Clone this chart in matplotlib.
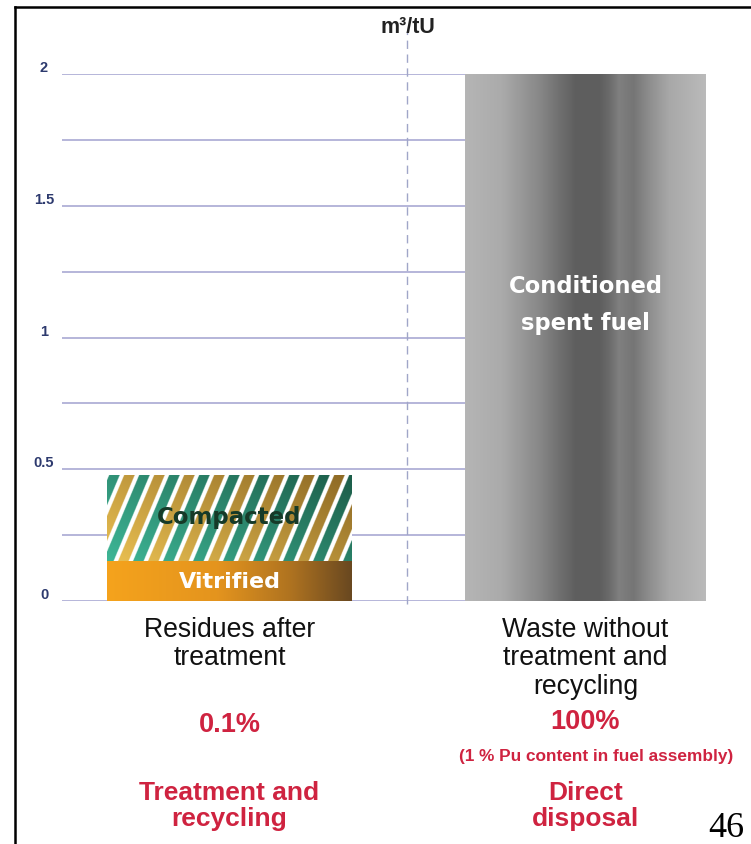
import numpy as np
import matplotlib
matplotlib.use("Agg")
import matplotlib.pyplot as plt
from matplotlib import transforms
from matplotlib.lines import Line2D

# ---- data -------------------------------------------------------------
categories = ["Residues after\ntreatment", "Waste without\ntreatment and\nrecycling"]
vitrified = 0.15          # m3/tU
compacted = 0.33          # m3/tU, stacked on vitrified
spent_fuel = 2.0          # m3/tU
shares = ["0.1%", "100%"]
routes = ["Treatment and\nrecycling", "Direct\ndisposal"]
note = "(1 % Pu content in fuel assembly)"
grid_values = [0, 0.25, 0.5, 0.75, 1.0, 1.25, 1.5, 1.75, 2.0]
tick_values = [0, 0.5, 1, 1.5, 2]
tick_labels = ["0", "0.5", "1", "1.5", "2"]
unit = "m³/tU"
page_number = "46"

# ---- figure -----------------------------------------------------------
W, H = 751, 845
fig = plt.figure(figsize=(W / 100, H / 100), dpi=100)
fig.patch.set_facecolor("white")
ax = fig.add_axes([40 / W, (H - 602) / H, (W - 40) / W, (602 - 75) / H])
XLIM = (-0.5323, 1.4649)
ax.set_xlim(*XLIM)
ax.set_ylim(0, 2)
ax.axis("off")

SANS = "Liberation Sans"
RED = "#cf2340"
NAVY = "#2d3a6e"
GRID = "#a9a9d3"

# horizontal guide lines
ax.hlines(grid_values, -0.4705, 0.6615, color=GRID, lw=1.2, zorder=1)

# dashed divider between the two scenarios
ax.plot([0.5, 0.5], [-0.01, 2.16], ls=(0, (6, 4)), color="#a0a6c8", lw=1.0,
        zorder=1, clip_on=False)

# y tick labels
lab_tr = transforms.offset_copy(ax.transData, fig=fig, y=7, units="dots")
for v, t in zip(tick_values, tick_labels):
    ax.text(-0.521, v, t, transform=lab_tr, ha="center", va="center",
            fontsize=10.5, fontweight="bold", color=NAVY, family=SANS,
            clip_on=False)

ax.text(0.5, 2.18, unit, ha="center", va="center", fontsize=15.5,
        fontweight="bold", color="#222222", family=SANS, clip_on=False)

# ---- bars -------------------------------------------------------------
bw_left = 245 / 356
bw_right = 241 / 356
b_vit = ax.bar(0, vitrified, width=bw_left, color="none", lw=0, zorder=3)[0]
b_com = ax.bar(0, compacted, bottom=vitrified, width=bw_left, color="none",
               lw=0, zorder=3)[0]
b_fuel = ax.bar(1, spent_fuel, width=bw_right, color="none", lw=0, zorder=3)[0]


def fill_bar(bar, img):
    x0, w = bar.get_x(), bar.get_width()
    y0, h = bar.get_y(), bar.get_height()
    im = ax.imshow(img, extent=[x0, x0 + w, y0, y0 + h], origin="lower",
                   aspect="auto", zorder=2, interpolation="bilinear")
    im.set_clip_path(bar)
    return im


# vitrified: orange-to-brown horizontal gradient
t = np.linspace(0, 1, 256)
stops = [0, 0.45, 0.75, 1]
rgb = np.array([[245, 163, 28], [228, 148, 30], [175, 115, 32], [105, 72, 32]]) / 255
vit_img = np.stack([np.interp(t, stops, rgb[:, k]) for k in range(3)], axis=-1)[None, :, :]
fill_bar(b_vit, vit_img)

# compacted: diagonal teal / gold stripes on white
scale = 3
pw, ph = 245 * scale, 87 * scale
xx, yy = np.meshgrid(np.arange(pw) / scale, np.arange(ph) / scale)
phase = xx - 0.42 * yy + 4
period = 15.0
k = np.floor(phase / period)
inside = (phase - k * period) < 10.5
d = np.clip(0.6 * xx / 245 + 0.4 * yy / 87, 0, 1)[..., None]
teal = (1 - d) * np.array([62, 182, 150]) + d * np.array([28, 92, 72])
gold = (1 - d) * np.array([234, 192, 82]) + d * np.array([140, 104, 36])
col = np.where((k % 2 == 0)[..., None], teal, gold)
com_img = np.where(inside[..., None], col, 255.0) / 255
fill_bar(b_com, com_img)

# spent fuel: grey cylinder-like shading
pos = [0, 0.15, 0.31, 0.39, 0.46, 0.56, 0.60, 0.64, 0.70, 0.77, 0.85, 1]
lvl = [0.71, 0.67, 0.53, 0.44, 0.37, 0.37, 0.42, 0.50, 0.46, 0.56, 0.66, 0.73]
g = np.interp(t, pos, lvl)
fuel_img = np.repeat(g[None, :, None], 3, axis=2)
fill_bar(b_fuel, fuel_img)

ax.set_xlim(*XLIM)
ax.set_ylim(0, 2)

# labels inside the bars
ax.text(0, vitrified / 2, "Vitrified", ha="center", va="center", color="white",
        fontsize=16, fontweight="bold", family="DejaVu Sans", zorder=5)
ax.text(0, vitrified + compacted * 0.52, "Compacted", ha="center", va="center",
        color="#163a28", fontsize=16.5, fontweight="bold", family="DejaVu Sans",
        zorder=5)
ax.text(1, 1.127, "Conditioned\nspent fuel", ha="center", va="center",
        color="white", fontsize=16.3, fontweight="bold", family="DejaVu Sans",
        linespacing=1.75, zorder=5)

# ---- texts below the chart ---------------------------------------------
btr = transforms.blended_transform_factory(ax.transData, fig.transFigure)


def fy(py):
    return 1 - py / H


ax.text(0, fy(617), categories[0], transform=btr, ha="center", va="top",
        fontsize=19.2, family=SANS, color="#111111", linespacing=1.12)
ax.text(1, fy(617), categories[1], transform=btr, ha="center", va="top",
        fontsize=19.2, family=SANS, color="#111111", linespacing=1.12)

ax.text(0, fy(725), shares[0], transform=btr, ha="center", va="center",
        fontsize=19.5, fontweight="bold", family=SANS, color=RED)
ax.text(1, fy(722), shares[1], transform=btr, ha="center", va="center",
        fontsize=19.5, fontweight="bold", family=SANS, color=RED)
ax.text(1.03, fy(757), note, transform=btr, ha="center", va="center",
        fontsize=12.4, fontweight="bold", family=SANS, color=RED)

ax.text(0, fy(806), routes[0], transform=btr, ha="center", va="center",
        fontsize=19, fontweight="bold", family=SANS, color=RED,
        linespacing=1.12)
ax.text(1, fy(806), routes[1], transform=btr, ha="center", va="center",
        fontsize=19, fontweight="bold", family=SANS, color=RED,
        linespacing=1.12)

fig.text(726 / W, fy(829), page_number, ha="center", va="center",
         fontsize=26, family="Liberation Serif", color="black")

# ---- slide frame --------------------------------------------------------
fig.add_artist(Line2D([15 / W, 15 / W], [0, fy(8)], transform=fig.transFigure,
                      color="black", lw=1.8))
fig.add_artist(Line2D([15 / W, 1], [fy(8), fy(8)], transform=fig.transFigure,
                      color="black", lw=1.8))

fig.savefig("out.png", dpi=100, facecolor="white")
